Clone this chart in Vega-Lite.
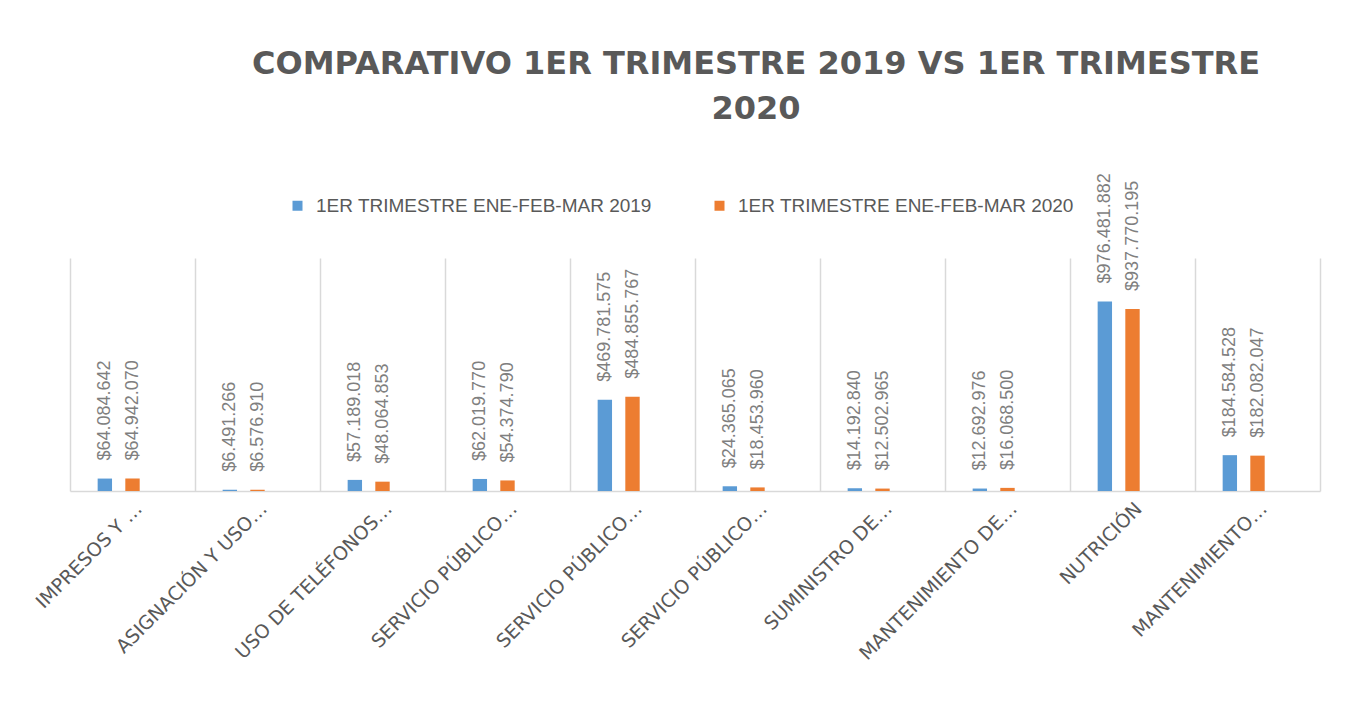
{
  "$schema": "https://vega.github.io/schema/vega-lite/v6.json",
  "autosize": {"type": "none"},
  "width": 1250,
  "height": 233,
  "padding": {"left": 70, "top": 258, "right": 30, "bottom": 211},
  "background": "white",
  "title": {
    "text": ["COMPARATIVO 1ER TRIMESTRE 2019 VS 1ER TRIMESTRE", "2020"],
    "font": "DejaVu Sans",
    "fontSize": 32,
    "fontWeight": "bold",
    "color": "#595959",
    "anchor": "middle",
    "dx": 61,
    "lineHeight": 45,
    "offset": 47
  },
  "data": {
    "values": [
      {"cat": "IMPRESOS Y …", "serie": "1ER TRIMESTRE ENE-FEB-MAR 2019", "valor": 64084642, "etiqueta": "$64.084.642"},
      {"cat": "IMPRESOS Y …", "serie": "1ER TRIMESTRE ENE-FEB-MAR 2020", "valor": 64942070, "etiqueta": "$64.942.070"},
      {"cat": "ASIGNACIÓN Y USO…", "serie": "1ER TRIMESTRE ENE-FEB-MAR 2019", "valor": 6491266, "etiqueta": "$6.491.266"},
      {"cat": "ASIGNACIÓN Y USO…", "serie": "1ER TRIMESTRE ENE-FEB-MAR 2020", "valor": 6576910, "etiqueta": "$6.576.910"},
      {"cat": "USO DE TELÉFONOS…", "serie": "1ER TRIMESTRE ENE-FEB-MAR 2019", "valor": 57189018, "etiqueta": "$57.189.018"},
      {"cat": "USO DE TELÉFONOS…", "serie": "1ER TRIMESTRE ENE-FEB-MAR 2020", "valor": 48064853, "etiqueta": "$48.064.853"},
      {"cat": "SERVICIO PÚBLICO…", "serie": "1ER TRIMESTRE ENE-FEB-MAR 2019", "valor": 62019770, "etiqueta": "$62.019.770"},
      {"cat": "SERVICIO PÚBLICO…", "serie": "1ER TRIMESTRE ENE-FEB-MAR 2020", "valor": 54374790, "etiqueta": "$54.374.790"},
      {"cat": " SERVICIO PÚBLICO…", "serie": "1ER TRIMESTRE ENE-FEB-MAR 2019", "valor": 469781575, "etiqueta": "$469.781.575"},
      {"cat": " SERVICIO PÚBLICO…", "serie": "1ER TRIMESTRE ENE-FEB-MAR 2020", "valor": 484855767, "etiqueta": "$484.855.767"},
      {"cat": "  SERVICIO PÚBLICO…", "serie": "1ER TRIMESTRE ENE-FEB-MAR 2019", "valor": 24365065, "etiqueta": "$24.365.065"},
      {"cat": "  SERVICIO PÚBLICO…", "serie": "1ER TRIMESTRE ENE-FEB-MAR 2020", "valor": 18453960, "etiqueta": "$18.453.960"},
      {"cat": "SUMINISTRO DE…", "serie": "1ER TRIMESTRE ENE-FEB-MAR 2019", "valor": 14192840, "etiqueta": "$14.192.840"},
      {"cat": "SUMINISTRO DE…", "serie": "1ER TRIMESTRE ENE-FEB-MAR 2020", "valor": 12502965, "etiqueta": "$12.502.965"},
      {"cat": "MANTENIMIENTO DE…", "serie": "1ER TRIMESTRE ENE-FEB-MAR 2019", "valor": 12692976, "etiqueta": "$12.692.976"},
      {"cat": "MANTENIMIENTO DE…", "serie": "1ER TRIMESTRE ENE-FEB-MAR 2020", "valor": 16068500, "etiqueta": "$16.068.500"},
      {"cat": "NUTRICIÓN", "serie": "1ER TRIMESTRE ENE-FEB-MAR 2019", "valor": 976481882, "etiqueta": "$976.481.882"},
      {"cat": "NUTRICIÓN", "serie": "1ER TRIMESTRE ENE-FEB-MAR 2020", "valor": 937770195, "etiqueta": "$937.770.195"},
      {"cat": "MANTENIMIENTO…", "serie": "1ER TRIMESTRE ENE-FEB-MAR 2019", "valor": 184584528, "etiqueta": "$184.584.528"},
      {"cat": "MANTENIMIENTO…", "serie": "1ER TRIMESTRE ENE-FEB-MAR 2020", "valor": 182082047, "etiqueta": "$182.082.047"}
    ]
  },
  "encoding": {
    "x": {
      "field": "cat",
      "type": "nominal",
      "sort": null,
      "scale": {"paddingInner": 0, "paddingOuter": 0},
      "axis": {
        "title": null,
        "labelAngle": -45,
        "labelFont": "DejaVu Sans",
        "labelFontSize": 19,
        "labelColor": "#595959",
        "labelPadding": 8,
        "labelLimit": 0,
        "labelOverlap": false,
        "ticks": false,
        "domainColor": "#d9d9d9",
        "domainWidth": 1.5,
        "grid": true,
        "gridColor": "#d9d9d9",
        "gridWidth": 1.5,
        "bandPosition": 0
      }
    },
    "xOffset": {
      "field": "serie",
      "type": "nominal",
      "scale": {
        "domain": ["1ER TRIMESTRE ENE-FEB-MAR 2019", "1ER TRIMESTRE ENE-FEB-MAR 2020", "_vacío"],
        "paddingInner": 0.48,
        "paddingOuter": 1.24
      }
    },
    "y": {
      "field": "valor",
      "type": "quantitative",
      "scale": {"domain": [0, 1200000000], "nice": false},
      "axis": {
        "orient": "right",
        "title": null,
        "labels": false,
        "ticks": false,
        "grid": false,
        "domain": true,
        "domainColor": "#d9d9d9",
        "domainWidth": 1.5
      }
    }
  },
  "layer": [
    {
      "mark": {"type": "bar"},
      "encoding": {
        "color": {
          "field": "serie",
          "type": "nominal",
          "scale": {
            "domain": ["1ER TRIMESTRE ENE-FEB-MAR 2019", "1ER TRIMESTRE ENE-FEB-MAR 2020"],
            "range": ["#5b9bd5", "#ed7d31"]
          },
          "legend": {
            "title": null,
            "orient": "none",
            "legendX": 218,
            "legendY": -62,
            "direction": "horizontal",
            "symbolType": "square",
            "symbolSize": 100,
            "symbolStrokeWidth": 0,
            "labelFont": "Liberation Sans",
            "labelFontSize": 19,
            "labelColor": "#595959",
            "labelOffset": 9,
            "columnPadding": 58,
            "labelLimit": 0
          }
        }
      }
    },
    {
      "mark": {
        "type": "text",
        "angle": 270,
        "align": "left",
        "baseline": "middle",
        "dx": 18,
        "font": "Liberation Sans",
        "fontSize": 18,
        "color": "#7f7f7f"
      },
      "encoding": {
        "text": {"field": "etiqueta"}
      }
    }
  ],
  "config": {
    "view": {"stroke": null}
  }
}
